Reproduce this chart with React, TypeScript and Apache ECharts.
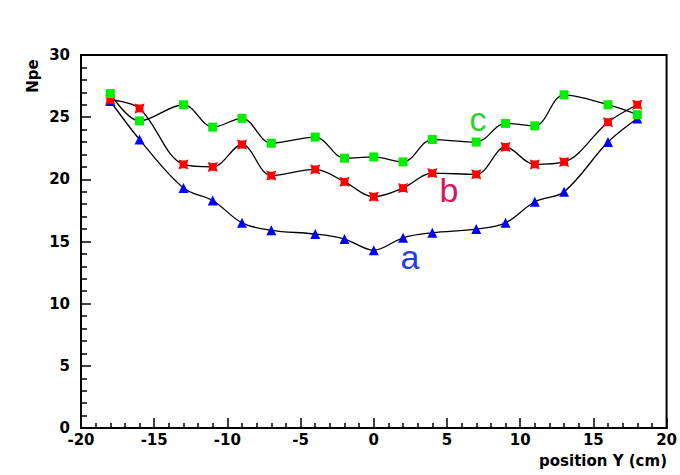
import React, { useEffect, useRef } from "react";
import * as echarts from "echarts";

const positions = [-18, -16, -13, -11, -9, -7, -4, -2, 0, 2, 4, 7, 9, 11, 13, 16, 18];
const seriesA = [26.3, 23.2, 19.3, 18.3, 16.5, 15.9, 15.6, 15.2, 14.3, 15.3, 15.7, 16.0, 16.5, 18.2, 19.0, 23.0, 24.9];
const seriesB = [26.4, 25.7, 21.2, 21.0, 22.8, 20.3, 20.8, 19.8, 18.6, 19.3, 20.5, 20.4, 22.6, 21.2, 21.4, 24.6, 26.0];
const seriesC = [26.9, 24.7, 26.0, 24.2, 24.9, 22.9, 23.4, 21.7, 21.8, 21.4, 23.2, 23.0, 24.5, 24.3, 26.8, 26.0, 25.2];
const seriesNames = ["a", "b", "c"];
const xTitle = "position Y (cm)";
const yTitle = "Npe";

const starPath =
  "path://M0,0 L3.5,1.1 L6.5,1.1 L10,0 L8.9,3.5 L8.9,6.5 L10,10 L6.5,8.9 L3.5,8.9 L0,10 L1.1,6.5 L1.1,3.5 Z";

const pairs = (ys: number[]) => positions.map((x, i) => [x, ys[i]]);

export default function App() {
  const ref = useRef<HTMLDivElement>(null);
  useEffect(() => {
    if (!ref.current) return;
    const chart = echarts.init(ref.current, undefined, { renderer: "svg" });
    const labelFont = {
      fontFamily: "DejaVu Sans",
      fontWeight: "bold" as const,
      fontSize: 15,
      color: "#000",
    };
    const lineSeries = (name: string, ys: number[], symbol: string, size: number, color: string) => ({
      name,
      type: "line",
      data: pairs(ys),
      smooth: 0.35,
      symbol,
      symbolSize: size,
      showSymbol: true,
      lineStyle: { color: "#000", width: 1.3 },
      itemStyle: { color },
      emphasis: { disabled: true },
    });
    chart.setOption({
      animation: false,
      backgroundColor: "#fff",
      grid: {
        left: 81,
        right: 13,
        top: 55,
        bottom: 47,
        show: true,
        borderColor: "#000",
        borderWidth: 2,
        backgroundColor: "transparent",
      },
      xAxis: {
        type: "value",
        min: -20,
        max: 20,
        interval: 5,
        axisLine: { show: true, onZero: false, lineStyle: { color: "#000", width: 2 } },
        axisTick: { show: true, inside: true, length: 10, lineStyle: { color: "#000", width: 1.5 } },
        minorTick: { show: true, splitNumber: 5, length: 5, lineStyle: { color: "#000", width: 1.5 } },
        splitLine: { show: false },
        axisLabel: { ...labelFont, margin: 4 },
      },
      yAxis: {
        type: "value",
        min: 0,
        max: 30,
        interval: 5,
        axisLine: { show: true, onZero: false, lineStyle: { color: "#000", width: 2 } },
        axisTick: { show: true, inside: true, length: 10, lineStyle: { color: "#000", width: 1.5 } },
        minorTick: { show: true, splitNumber: 5, length: 6, lineStyle: { color: "#000", width: 1.5 } },
        splitLine: { show: false },
        axisLabel: { ...labelFont, margin: 11 },
      },
      series: [
        lineSeries(seriesNames[0], seriesA, "triangle", 10, "#0000ff"),
        lineSeries(seriesNames[1], seriesB, starPath, 10, "#ff0000"),
        lineSeries(seriesNames[2], seriesC, "rect", 9, "#00ee00"),
      ],
      graphic: [
        {
          type: "text",
          x: 667,
          y: 461,
          style: {
            text: xTitle,
            fill: "#000",
            font: "bold 15px 'DejaVu Sans'",
            textAlign: "right",
            textVerticalAlign: "middle",
          },
        },
        {
          type: "text",
          x: 33,
          y: 76,
          rotation: Math.PI / 2,
          style: {
            text: yTitle,
            fill: "#000",
            font: "bold 15px 'DejaVu Sans'",
            textAlign: "center",
            textVerticalAlign: "middle",
          },
        },
        {
          type: "text",
          x: 410,
          y: 257,
          style: {
            text: seriesNames[0],
            fill: "#1f3fe0",
            font: "34px 'Liberation Sans'",
            textAlign: "center",
            textVerticalAlign: "middle",
          },
        },
        {
          type: "text",
          x: 449,
          y: 190,
          style: {
            text: seriesNames[1],
            fill: "#d8175a",
            font: "34px 'Liberation Sans'",
            textAlign: "center",
            textVerticalAlign: "middle",
          },
        },
        {
          type: "text",
          x: 478,
          y: 119,
          style: {
            text: seriesNames[2],
            fill: "#29d42a",
            font: "34px 'Liberation Sans'",
            textAlign: "center",
            textVerticalAlign: "middle",
          },
        },
      ],
    });
    return () => chart.dispose();
  }, []);
  return (
    <div
      ref={ref}
      style={{ position: "fixed", left: 0, top: 0, width: 680, height: 475, background: "#fff" }}
    />
  );
}
